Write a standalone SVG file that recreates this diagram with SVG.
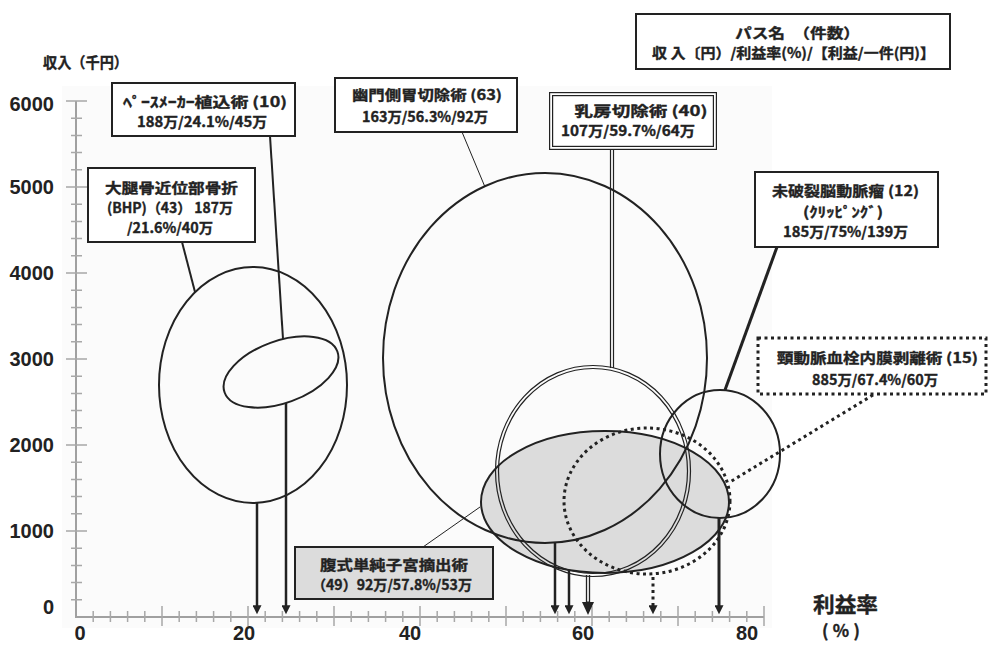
<svg xmlns="http://www.w3.org/2000/svg" width="988" height="645" viewBox="0 0 988 645">
  <style>
    .jp { font-family: "Noto Sans CJK JP", "Liberation Sans", sans-serif; font-weight: bold; fill: #222; stroke: #222; stroke-width: 0.35px; text-anchor: middle; font-size: 14px; }
    .num { font-family: "Liberation Sans", Arial, sans-serif; font-weight: bold; fill: #222; font-size: 20px; }
    .box { fill: #fff; stroke: #222; stroke-width: 2; }
    .oval { fill: none; stroke: #222; stroke-width: 2; }
    .axis { fill: none; stroke: #a0a0a0; stroke-width: 2; }
    .tick { fill: none; stroke: #a8a8a8; stroke-width: 1.5; }
    .lead { fill: none; stroke: #222; }
    .dot { fill: none; stroke: #222; stroke-width: 3; stroke-dasharray: 3 3.5; }
  </style>
  <defs>
    <marker id="head" viewBox="0 0 10 10" refX="3" refY="5" markerWidth="10" markerHeight="9" markerUnits="userSpaceOnUse" orient="auto">
      <path d="M0,0 L10,5 L0,10 z" fill="#222"/>
    </marker>
    <marker id="bighead" viewBox="0 0 13 12" refX="0" refY="6" markerWidth="13" markerHeight="13" markerUnits="userSpaceOnUse" orient="auto">
      <path d="M0,0 L13,6 L0,12 z" fill="#222"/>
    </marker>
  </defs>

  <!-- plot area -->
  <rect x="62" y="86" width="710" height="542" fill="#fbfbfb"/>

  <!-- axes -->
  <g id="axes">
    <path class="axis" d="M76 101V617H764"/>
    <path class="tick" d="M66 101H87M66 187H87M66 273H87M66 359H87M66 445H87M66 531H87"/>
    <path class="tick" d="M71 599.8H82M71 582.6H82M71 565.4H82M71 548.2H82M71 513.8H82M71 496.6H82M71 479.4H82M71 462.2H82M71 427.8H82M71 410.6H82M71 393.4H82M71 376.2H82M71 341.8H82M71 324.6H82M71 307.4H82M71 290.2H82M71 255.8H82M71 238.6H82M71 221.4H82M71 204.2H82M71 169.8H82M71 152.6H82M71 135.4H82M71 118.2H82"/>
    <path class="tick" d="M93.2 611V622M110.4 611V622M127.6 611V622M144.8 611V622M179.2 611V622M196.4 611V622M213.6 611V622M230.8 611V622M265.2 611V622M282.4 611V622M299.6 611V622M316.8 611V622M351.2 611V622M368.4 611V622M385.6 611V622M402.8 611V622M437.2 611V622M454.4 611V622M471.6 611V622M488.8 611V622M523.2 611V622M540.4 611V622M557.6 611V622M574.8 611V622M609.2 611V622M626.4 611V622M643.6 611V622M660.8 611V622M695.2 611V622M712.4 611V622M729.6 611V622M746.8 611V622"/>
    <path class="tick" d="M162 606V626M248 606V626M334 606V626M420 606V626M506 606V626M592 606V626M678 606V626M764 606V626"/>
    <g class="num" text-anchor="end">
      <text x="54" y="111">6000</text>
      <text x="54" y="194">5000</text>
      <text x="54" y="280">4000</text>
      <text x="54" y="366">3000</text>
      <text x="54" y="452">2000</text>
      <text x="54" y="538">1000</text>
      <text x="54" y="614">0</text>
    </g>
    <g class="num" text-anchor="middle">
      <text x="80" y="640">0</text>
      <text x="244" y="640">20</text>
      <text x="410" y="640">40</text>
      <text x="583" y="640">60</text>
      <text x="747" y="640">80</text>
    </g>
    <text class="jp" x="85.5" y="68" style="font-size:15px" textLength="85" lengthAdjust="spacingAndGlyphs">収入（千円）</text>
    <text class="jp" x="845.5" y="612" style="font-size:21px" textLength="65" lengthAdjust="spacingAndGlyphs">利益率</text>
    <text class="jp" x="841" y="637" style="font-size:17px" textLength="38" lengthAdjust="spacing">(%)</text>
  </g>

  <!-- legend -->
  <g id="legend">
    <rect class="box" x="636" y="14" width="314" height="55" stroke-width="3"/>
    <text class="jp" x="797.5" y="38" textLength="125" lengthAdjust="spacingAndGlyphs">パス名　（件数）</text>
    <text class="jp" x="793.5" y="58" textLength="283" lengthAdjust="spacingAndGlyphs">収 入〔円）/利益率(%)/【利益/一件(円)】</text>
  </g>

  <!-- abdominal hysterectomy (grey) -->
  <g id="hysterectomy">
    <ellipse cx="605" cy="502" rx="124" ry="71" fill="#dcdcdc" stroke="#222" stroke-width="2"/>
    <rect x="295" y="547" width="198" height="52" fill="#dcdcdc" stroke="#222" stroke-width="2"/>
    <text class="jp" x="394" y="570" textLength="148" lengthAdjust="spacingAndGlyphs">腹式単純子宮摘出術</text>
    <text class="jp" x="392" y="590" textLength="160" lengthAdjust="spacingAndGlyphs">（49）92万/57.8%/53万</text>
  </g>

  <!-- femoral neck fracture -->
  <g id="femur">
    <ellipse class="oval" cx="253" cy="385" rx="94" ry="118"/>
    <rect class="box" x="88" y="168" width="167" height="74"/>
    <text class="jp" x="171.5" y="193" textLength="133" lengthAdjust="spacingAndGlyphs">大腿骨近位部骨折</text>
    <text class="jp" x="170" y="213" textLength="126" lengthAdjust="spacingAndGlyphs">(BHP)（43） 187万</text>
    <text class="jp" x="170" y="233" textLength="86" lengthAdjust="spacingAndGlyphs">/21.6%/40万</text>
  </g>

  <!-- pacemaker -->
  <g id="pacemaker">
    <ellipse class="oval" cx="281" cy="372" rx="60" ry="31" transform="rotate(-20 281 372)"/>
    <rect class="box" x="112" y="83" width="183" height="53"/>
    <text class="jp" x="205" y="107" textLength="164" lengthAdjust="spacingAndGlyphs">ﾍﾟｰｽﾒｰｶｰ植込術 (10)</text>
    <text class="jp" x="202" y="127" textLength="130" lengthAdjust="spacingAndGlyphs">188万/24.1%/45万</text>
  </g>

  <!-- distal gastrectomy -->
  <g id="gastrectomy">
    <ellipse class="oval" cx="545" cy="358" rx="162" ry="185"/>
    <rect class="box" x="335" y="78" width="182" height="54"/>
    <text class="jp" x="427" y="100" textLength="150" lengthAdjust="spacingAndGlyphs">幽門側胃切除術 (63)</text>
    <text class="jp" x="425" y="122" textLength="126" lengthAdjust="spacingAndGlyphs">163万/56.3%/92万</text>
  </g>

  <!-- mastectomy (double outline) -->
  <g id="mastectomy">
    <ellipse cx="593" cy="471" rx="97.5" ry="105.5" fill="none" stroke="#222" stroke-width="1.2"/>
    <ellipse cx="593" cy="471" rx="94.5" ry="102.5" fill="none" stroke="#222" stroke-width="1.2"/>
    <rect x="549.6" y="92.6" width="166.8" height="56.8" fill="#fff" stroke="#222" stroke-width="1.2"/>
    <rect x="552.6" y="95.6" width="160.8" height="50.8" fill="none" stroke="#222" stroke-width="1.2"/>
    <text class="jp" x="641" y="116" textLength="133" lengthAdjust="spacingAndGlyphs">乳房切除術 (40)</text>
    <text class="jp" x="628" y="136" textLength="134" lengthAdjust="spacingAndGlyphs">107万/59.7%/64万</text>
  </g>

  <!-- carotid endarterectomy (dotted) -->
  <g id="carotid">
    <ellipse class="dot" cx="647" cy="501" rx="83" ry="73"/>
    <rect x="758" y="338" width="228" height="56" fill="#fff"/>
    <rect class="dot" x="758" y="338" width="228" height="56"/>
    <text class="jp" x="877.5" y="363" textLength="201" lengthAdjust="spacingAndGlyphs">頸動脈血栓内膜剥離術 (15)</text>
    <text class="jp" x="875" y="385" textLength="126" lengthAdjust="spacingAndGlyphs">885万/67.4%/60万</text>
  </g>

  <!-- unruptured aneurysm clipping -->
  <g id="aneurysm">
    <ellipse class="oval" cx="720" cy="454" rx="60" ry="64" stroke-width="3"/>
    <rect class="box" x="755" y="172" width="183" height="75" stroke-width="3"/>
    <text class="jp" x="845.5" y="196" textLength="147" lengthAdjust="spacingAndGlyphs">未破裂脳動脈瘤 (12)</text>
    <text class="jp" x="843" y="217" textLength="80" lengthAdjust="spacingAndGlyphs">(ｸﾘｯﾋﾟﾝｸﾞ)</text>
    <text class="jp" x="845.5" y="237" textLength="125" lengthAdjust="spacingAndGlyphs">185万/75%/139万</text>
  </g>

  <!-- leaders and drop arrows -->
  <g id="connectors">
    <line class="lead" x1="182" y1="242" x2="195" y2="292" stroke-width="2"/>
    <line class="lead" x1="270" y1="136" x2="283" y2="339" stroke-width="2"/>
    <line class="lead" x1="462" y1="132" x2="485" y2="187" stroke-width="1"/>
    <line class="lead" x1="610.5" y1="150" x2="610.5" y2="368" stroke-width="1.2"/>
    <line class="lead" x1="613.5" y1="150" x2="613.5" y2="368" stroke-width="1.2"/>
    <line class="lead" x1="777" y1="247" x2="725" y2="390" stroke-width="3"/>
    <line class="dot" x1="873" y1="395" x2="730" y2="482"/>
    <line class="lead" x1="423" y1="547" x2="480" y2="507" stroke-width="1"/>

    <line class="lead" x1="257" y1="503" x2="257" y2="608" stroke-width="2.5" marker-end="url(#head)"/>
    <line class="lead" x1="286" y1="403" x2="286" y2="608" stroke-width="2.5" marker-end="url(#head)"/>
    <line class="lead" x1="555" y1="543" x2="555" y2="608" stroke-width="2.5" marker-end="url(#head)"/>
    <line class="lead" x1="569" y1="570" x2="569" y2="608" stroke-width="2.5" marker-end="url(#head)"/>
    <line class="lead" x1="586.5" y1="575" x2="586.5" y2="603" stroke-width="1.3"/>
    <line class="lead" x1="589.5" y1="575" x2="589.5" y2="603" stroke-width="1.3"/>
    <line class="lead" x1="588" y1="601" x2="588" y2="602" stroke-width="1" marker-end="url(#bighead)"/>
    <line class="dot" x1="653" y1="577" x2="653" y2="608" marker-end="url(#head)"/>
    <line class="lead" x1="719" y1="517" x2="719" y2="608" stroke-width="3" marker-end="url(#head)"/>
  </g>
</svg>
